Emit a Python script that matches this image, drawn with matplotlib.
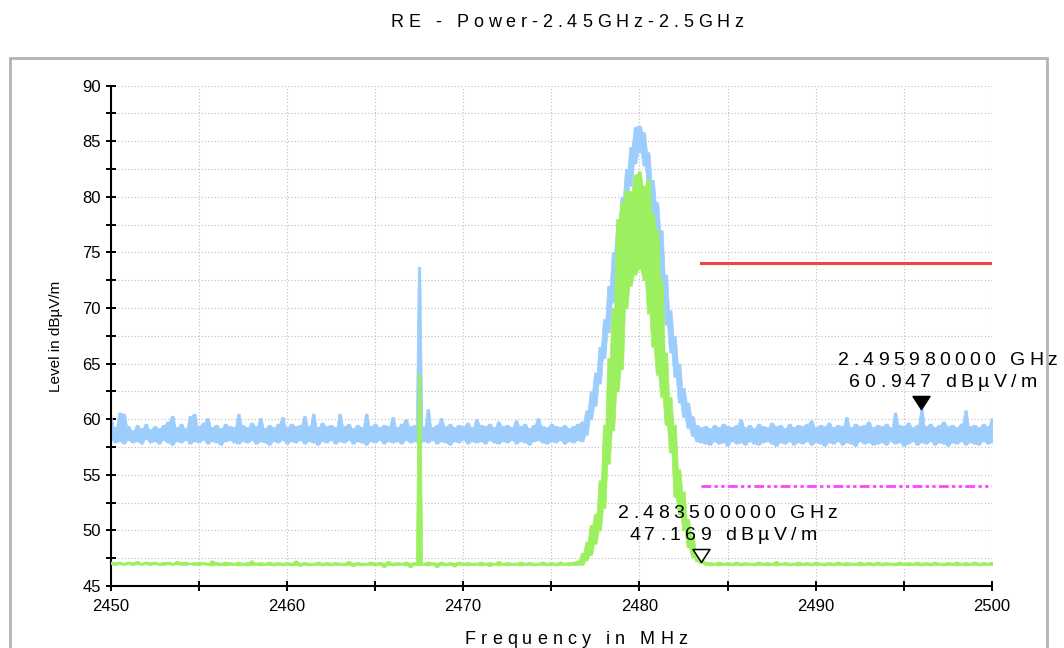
import numpy as np
import matplotlib
matplotlib.use("Agg")
import matplotlib.pyplot as plt
from matplotlib.font_manager import FontProperties, findfont, get_font
from matplotlib.patches import Rectangle
from matplotlib.path import Path
from matplotlib.ticker import MultipleLocator

plt.rcParams['font.family'] = ['Liberation Sans', 'DejaVu Sans']

# sweep: 2450 .. 2500 MHz, one min/max pair per 0.25 MHz bin
f_start = 2450.0
f_step = 0.25

# peak detector trace (dBuV/m), upper / lower value in each bin
peak_hi = [
    60.2, 59.3, 60.6, 60.5, 59.4, 59.0, 59.5, 59.2, 59.6, 59.1,
    59.4, 59.2, 59.5, 59.8, 60.3, 59.3, 59.6, 59.2, 60.3, 60.5,
    59.4, 59.7, 60.1, 59.3, 59.5, 59.2, 59.6, 59.4, 59.3, 60.5,
    59.5, 59.3, 59.7, 59.4, 60.1, 59.2, 59.5, 59.3, 59.6, 60.2,
    59.3, 59.6, 59.4, 59.5, 60.3, 59.4, 60.5, 59.3, 59.7, 59.4,
    59.5, 59.3, 60.5, 59.4, 59.6, 59.2, 59.5, 59.3, 60.5, 59.4,
    59.6, 59.3, 59.5, 59.4, 60.2, 59.3, 59.6, 60.0, 59.4, 59.5,
    73.7, 59.4, 60.9, 59.3, 59.5, 60.1, 59.4, 59.6, 59.3, 59.5,
    59.4, 59.7, 59.3, 60.0, 59.5, 59.4, 59.6, 59.3, 59.8, 59.4,
    59.5, 59.3, 59.9, 59.4, 59.6, 59.2, 59.5, 60.1, 59.4, 59.3,
    59.6, 59.4, 59.3, 59.5, 59.2, 59.4, 59.6, 59.8, 60.8, 62.5,
    64.2, 66.5, 69.0, 72.0, 75.0, 77.5, 80.0, 82.5, 84.5, 86.3,
    86.4, 85.8, 84.0, 81.5, 79.5, 77.0, 73.0, 69.8, 67.5, 65.0,
    62.8, 61.5, 60.3, 59.5, 59.3, 59.4, 59.2, 59.5, 59.3, 59.6,
    59.4, 59.3, 59.5, 60.0, 59.3, 59.5, 59.2, 59.6, 59.4, 59.3,
    59.7, 59.4, 59.5, 59.2, 59.6, 59.3, 59.5, 59.4, 59.6, 59.9,
    59.3, 59.5, 59.4, 59.7, 59.3, 59.5, 59.4, 60.2, 59.3, 59.6,
    59.4, 59.5, 59.8, 59.3, 59.5, 59.4, 59.6, 59.3, 60.6, 59.5,
    59.4, 59.7, 59.3, 59.5, 60.95, 59.4, 59.6, 59.3, 59.5, 59.8,
    59.4, 59.5, 59.3, 59.6, 60.8, 59.4, 59.5, 59.3, 59.6, 59.4,
    60.1,
]
peak_lo = [
    58.2, 57.9, 58.0, 57.8, 58.1, 57.9, 58.0, 57.8, 58.2, 57.9,
    58.0, 57.8, 58.1, 57.9, 57.7, 58.0, 57.9, 58.1, 57.8, 58.0,
    57.9, 58.1, 57.8, 58.0, 57.9, 57.7, 58.0, 58.1, 57.9, 57.8,
    58.0, 57.9, 58.1, 57.8, 58.0, 57.9, 57.7, 58.0, 57.9, 58.1,
    57.8, 58.0, 57.9, 58.1, 57.8, 58.0, 57.9, 57.7, 58.0, 57.9,
    58.1, 57.8, 58.0, 57.9, 58.1, 57.8, 58.0, 57.9, 57.7, 58.0,
    57.9, 58.1, 57.8, 58.0, 57.9, 58.0, 57.8, 58.1, 57.9, 58.0,
    57.8, 58.0, 57.9, 58.1, 57.8, 58.0, 57.9, 57.7, 58.0, 57.9,
    58.1, 57.8, 58.0, 57.9, 58.0, 57.8, 58.1, 57.9, 57.8, 58.0,
    57.9, 58.1, 57.8, 58.0, 57.9, 57.7, 58.0, 58.1, 57.9, 57.8,
    58.0, 57.9, 58.1, 57.8, 58.0, 57.9, 58.1, 58.0, 58.6, 60.0,
    61.2, 63.2, 65.5, 67.8, 70.5, 73.5, 76.2, 78.8, 81.0, 83.0,
    84.0, 82.8, 80.5, 78.0, 75.5, 72.0, 68.5, 66.0, 63.8, 61.5,
    60.2, 59.2, 58.5, 58.0, 57.9, 57.8, 57.7, 58.0, 57.8, 57.9,
    57.6, 58.0, 57.8, 57.9, 57.7, 58.0, 57.8, 57.7, 57.9, 58.0,
    57.8, 57.6, 57.9, 57.8, 58.0, 57.7, 57.9, 57.8, 58.0, 57.7,
    57.9, 57.8, 57.6, 57.9, 57.8, 58.0, 57.7, 57.9, 57.8, 57.6,
    58.0, 57.8, 57.9, 57.7, 57.8, 57.9, 57.7, 58.0, 57.8, 57.9,
    57.6, 57.8, 58.0, 57.7, 57.9, 57.8, 58.0, 57.7, 57.9, 57.8,
    57.6, 57.9, 57.8, 58.0, 57.7, 57.9, 57.8, 57.7, 58.0, 57.8,
    57.9,
]

# average detector trace (dBuV/m)
avg_hi = [
    47.2, 47.15, 47.2, 47.1, 47.2, 47.15, 47.25, 47.1, 47.2, 47.15,
    47.2, 47.1, 47.15, 47.2, 47.1, 47.25, 47.15, 47.2, 47.1, 47.15,
    47.2, 47.15, 47.1, 47.3, 47.15, 47.1, 47.2, 47.15, 47.1, 47.2,
    47.1, 47.15, 47.3, 47.1, 47.15, 47.1, 47.2, 47.1, 47.15, 47.1,
    47.15, 47.1, 47.3, 47.1, 47.15, 47.1, 47.1, 47.2, 47.1, 47.15,
    47.1, 47.15, 47.1, 47.1, 47.25, 47.1, 47.15, 47.1, 47.1, 47.2,
    47.1, 47.15, 47.1, 47.25, 47.1, 47.15, 47.1, 47.2, 47.1, 47.15,
    64.1, 47.1, 47.2, 47.15, 47.1, 47.2, 47.1, 47.15, 47.1, 47.2,
    47.1, 47.15, 47.1, 47.1, 47.2, 47.1, 47.15, 47.1, 47.25, 47.1,
    47.15, 47.1, 47.1, 47.2, 47.1, 47.15, 47.1, 47.1, 47.2, 47.1,
    47.15, 47.1, 47.2, 47.1, 47.15, 47.2, 47.3, 48.0, 49.0, 50.5,
    51.5, 54.5, 59.5, 65.5, 70.0, 78.0, 79.5, 80.6, 80.5, 82.0,
    82.3, 81.0, 81.6, 78.5, 77.0, 72.5, 66.0, 62.0, 59.5, 55.5,
    53.5, 51.0, 49.5, 48.3, 47.6, 47.2, 47.15, 47.1, 47.2, 47.1,
    47.15, 47.1, 47.2, 47.1, 47.15, 47.1, 47.1, 47.2, 47.1, 47.15,
    47.1, 47.25, 47.1, 47.15, 47.1, 47.1, 47.2, 47.1, 47.15, 47.1,
    47.2, 47.1, 47.1, 47.15, 47.1, 47.2, 47.1, 47.15, 47.1, 47.1,
    47.2, 47.1, 47.15, 47.1, 47.2, 47.1, 47.15, 47.1, 47.1, 47.2,
    47.1, 47.15, 47.1, 47.2, 47.1, 47.15, 47.1, 47.2, 47.1, 47.1,
    47.15, 47.1, 47.2, 47.1, 47.15, 47.1, 47.2, 47.1, 47.15, 47.1,
    47.2,
]
avg_lo = [
    46.95, 46.9, 46.95, 46.9, 46.95, 46.9, 46.95, 46.9, 46.95, 46.9,
    46.95, 46.9, 46.9, 46.95, 46.9, 46.95, 46.9, 46.9, 46.95, 46.9,
    46.9, 46.95, 46.9, 46.85, 46.9, 46.9, 46.85, 46.9, 46.9, 46.85,
    46.9, 46.85, 46.9, 46.9, 46.85, 46.9, 46.9, 46.85, 46.9, 46.85,
    46.9, 46.85, 46.9, 46.8, 46.9, 46.85, 46.9, 46.9, 46.85, 46.9,
    46.85, 46.9, 46.9, 46.85, 46.9, 46.8, 46.9, 46.85, 46.9, 46.9,
    46.85, 46.9, 46.7, 46.9, 46.85, 46.9, 46.9, 46.85, 46.7, 46.9,
    46.85, 46.9, 46.85, 46.9, 46.7, 46.9, 46.85, 46.9, 46.75, 46.9,
    46.9, 46.85, 46.9, 46.9, 46.85, 46.9, 46.8, 46.9, 46.85, 46.9,
    46.85, 46.9, 46.9, 46.85, 46.9, 46.9, 46.85, 46.9, 46.9, 46.85,
    46.9, 46.85, 46.9, 46.9, 46.85, 46.9, 46.9, 46.9, 47.3, 47.8,
    48.8, 50.0, 52.0, 56.0, 59.0, 62.5, 64.5, 70.0, 72.0, 73.0,
    73.5, 72.5, 69.5, 66.5, 64.0, 62.0, 59.5, 57.0, 53.0, 51.5,
    50.0, 48.5, 47.6, 47.2, 47.05, 46.9, 46.85, 46.9, 46.85, 46.9,
    46.9, 46.85, 46.9, 46.85, 46.9, 46.9, 46.85, 46.9, 46.9, 46.85,
    46.9, 46.85, 46.9, 46.9, 46.85, 46.9, 46.85, 46.9, 46.9, 46.85,
    46.9, 46.9, 46.85, 46.9, 46.85, 46.9, 46.9, 46.85, 46.9, 46.9,
    46.85, 46.9, 46.9, 46.85, 46.9, 46.85, 46.9, 46.9, 46.85, 46.9,
    46.9, 46.85, 46.9, 46.9, 46.85, 46.9, 46.85, 46.9, 46.9, 46.85,
    46.9, 46.9, 46.85, 46.9, 46.85, 46.9, 46.9, 46.85, 46.9, 46.9,
    46.9,
]

# limit lines (restricted band above 2483.5 MHz)
limit_start, limit_stop = 2483.5, 2500.0
limit_peak = 74.0
limit_avg = 54.0

# markers: frequency (MHz), level, filled?
mark_freq = [2483.5, 2495.98]
mark_level = [47.169, 60.947]
mark_filled = [False, True]

BLUE = '#9ccdfc'
GREEN = '#9cf060'


def trace(ax, f, lo, hi, color, z, w=0.07):
    # each bin is a short bar from its min to its max, joined to the next
    x = np.column_stack([f - w, f + w]).ravel()
    ax.fill_between(x, np.repeat(lo, 2), np.repeat(hi, 2), color=color,
                    lw=0.5, zorder=z)


def spaced(ax, xy, s, size, gap, coords, dx=0.0, dy=0.0, **kw):
    # letter-spaced text, centred on xy (+dx, dy in points)
    prop = FontProperties(family='Liberation Sans', size=size)
    font = get_font(findfont(prop))
    font.set_size(size, 72)
    hf = plt.rcParams['text.hinting_factor']
    adv = [font.load_char(ord(c)).horiAdvance / 64.0 / hf for c in s]
    x = dx - (sum(adv) + gap * (len(s) - 1)) / 2.0
    for c, a in zip(s, adv):
        ax.annotate(c, xy, xycoords=coords, xytext=(x, dy),
                    textcoords='offset points', fontproperties=prop,
                    ha='left', va='baseline', annotation_clip=False, **kw)
        x += a + gap


freq = f_start + f_step * np.arange(len(peak_hi))

fig = plt.figure(figsize=(10.64, 6.48), dpi=100)
ax = fig.add_axes([0.1039, 0.0957, 0.9323 - 0.1039, 0.868 - 0.0957])

trace(ax, freq, peak_lo, peak_hi, BLUE, 2)
trace(ax, freq, avg_lo, avg_hi, GREEN, 3)

ax.plot([limit_start, limit_stop], [limit_peak, limit_peak],
        color='#ee4444', lw=2.2, zorder=4)
ax.plot([limit_start, limit_stop], [limit_avg, limit_avg],
        color='#ff44ff', lw=2.0, zorder=4,
        linestyle=(0, (3.5, 1.2, 1.2, 1.2, 1.2, 1.2)))

tri = Path([(-0.65, 1.0), (0.65, 1.0), (0.0, 0.0), (-0.65, 1.0)],
           [Path.MOVETO, Path.LINETO, Path.LINETO, Path.CLOSEPOLY])
for f, lv, filled in zip(mark_freq, mark_level, mark_filled):
    ax.plot([f], [lv], marker=tri, markersize=18.7,
            markerfacecolor='black' if filled else 'white',
            markeredgecolor='black', markeredgewidth=1.1,
            linestyle='none', zorder=6, clip_on=False)
    spaced(ax, (f, lv), '%.9f GHz' % (f / 1000.0), 14, 3.2, 'data',
           dx=19, dy=31.5)
    spaced(ax, (f, lv), '%.3f dBµV/m' % lv, 14, 3.2, 'data',
           dx=16, dy=15.5)

ax.set_xlim(2450, 2500)
ax.set_ylim(45, 90)
ax.xaxis.set_major_locator(MultipleLocator(10))
ax.xaxis.set_minor_locator(MultipleLocator(5))
ax.yaxis.set_major_locator(MultipleLocator(5))
ax.yaxis.set_minor_locator(MultipleLocator(2.5))
ax.grid(which='both', color='#bdbdbd', lw=0.8, linestyle=(0, (1, 2)))
ax.set_axisbelow(True)
ax.tick_params(which='both', direction='inout', length=7, width=1.4,
               labelsize=12)
ax.tick_params(axis='y', pad=3.5)
ax.tick_params(axis='x', pad=6)
for side in ('top', 'right'):
    ax.spines[side].set_visible(False)
for side in ('left', 'bottom'):
    ax.spines[side].set_linewidth(1.5)

fig.text(56 / 1064, 1 - 336 / 648, 'Level in dBµV/m', rotation=90,
         ha='center', va='center', fontsize=11)
spaced(ax, (567 / 1064, 1 - 27 / 648), 'RE - Power-2.45GHz-2.5GHz',
       13, 3.5, 'figure fraction')
spaced(ax, (576 / 1064, 1 - 644 / 648), 'Frequency in MHz',
       13, 3.6, 'figure fraction')

fig.add_artist(Rectangle((10 / 1064, -0.1), 1037 / 1064, 590 / 648 + 0.1,
                         transform=fig.transFigure, fill=False,
                         edgecolor='#b3b3b3', lw=2, zorder=0))

fig.savefig('out.png', dpi=100)
